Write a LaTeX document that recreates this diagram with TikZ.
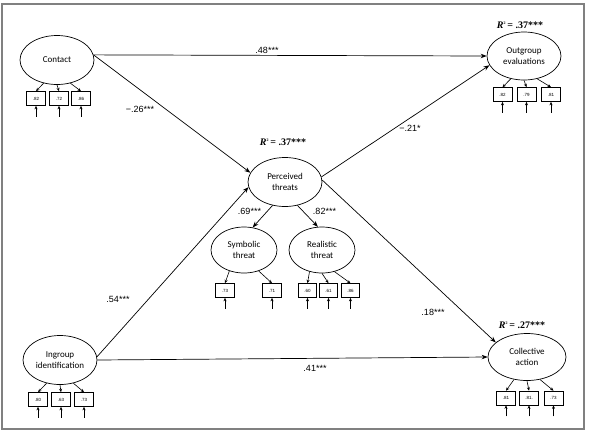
\documentclass[tikz,border=0pt]{standalone}
\usepackage{fontspec}
\setmainfont{Liberation Serif}
\newfontfamily\nodefont{Carlito}
\newfontfamily\labfont{Liberation Sans}
\usetikzlibrary{shapes.geometric,arrows.meta}
\tikzset{
  lat/.style={ellipse, draw, line width=0.7pt, minimum width=74pt, minimum height=49pt,
    inner sep=0pt, align=center, font=\nodefont\fontsize{9}{11}\selectfont},
  ind/.style={rectangle, draw, line width=0.6pt, minimum width=19pt, minimum height=14pt,
    inner sep=0pt, font=\labfont\fontsize{4.5}{5}\selectfont},
  reg/.style={draw, line width=0.7pt, -{Stealth[length=6pt,width=4.5pt]}},
  small/.style={draw, line width=0.6pt, -{Stealth[length=3.5pt,width=3pt]}},
  coef/.style={font=\labfont\fontsize{9}{11}\selectfont, inner sep=0pt},
  rsq/.style={font=\bfseries\fontsize{10}{12}\selectfont, inner sep=0pt},
}
\newcommand{\rsqtext}[1]{\textit{R}\raisebox{3.5pt}{\fontsize{4}{4}\selectfont 2}\,= .#1***}
\begin{document}
\begin{tikzpicture}[x=1pt,y=-1pt]
\useasboundingbox (0,0) rectangle (589,432);
\draw[gray, line width=1.2pt] (2,4) rectangle (584,429);

% latent variables
\node[lat] (contact) at (57,60) {Contact};
\node[lat, minimum height=48pt] (outgroup) at (524,56) {Outgroup\\evaluations};
\node[lat] (perceived) at (285,182) {Perceived\\threats};
\node[lat, minimum width=66pt, minimum height=46pt] (symbolic) at (244,250) {Symbolic\\threat};
\node[lat, minimum width=66pt, minimum height=46pt] (realistic) at (322,250) {Realistic\\threat};
\node[lat] (ingroup) at (60,360) {Ingroup\\identification};
\node[lat, minimum width=78pt, minimum height=47pt] (collective) at (527,357) {Collective\\action};

% indicators
\node[ind] (c1) at (36,98.5) {.82};
\node[ind] (c2) at (59,98.5) {.72};
\node[ind] (c3) at (81,98.5) {.86};
\node[ind] (o1) at (502.5,94.5) {.82};
\node[ind] (o2) at (526.5,94.5) {.79};
\node[ind] (o3) at (551,94.5) {.81};
\node[ind] (s1) at (225,290.5) {.73};
\node[ind] (s2) at (272,290.5) {.71};
\node[ind, minimum width=18pt] (r1) at (307.5,290.5) {.60};
\node[ind, minimum width=18pt] (r2) at (328.5,290.5) {.61};
\node[ind, minimum width=18pt] (r3) at (350.5,290.5) {.86};
\node[ind] (i1) at (38,399.5) {.80};
\node[ind] (i2) at (61,399.5) {.63};
\node[ind] (i3) at (84,399.5) {.73};
\node[ind] (a1) at (506,398) {.81};
\node[ind] (a2) at (529,398) {.81.};
\node[ind] (a3) at (553.5,398) {.73};

% loadings arrows
\draw[small] (contact.240) -- (c1.north);
\draw[small] (contact.270) -- (c2.north);
\draw[small] (contact.300) -- (c3.north);
\draw[small] (outgroup.240) -- (o1.north);
\draw[small] (outgroup.270) -- (o2.north);
\draw[small] (outgroup.300) -- (o3.north);
\draw[small] (symbolic.235) -- (s1.north);
\draw[small] (symbolic.305) -- (s2.north);
\draw[small] (realistic.240) -- (r1.north);
\draw[small] (realistic.270) -- (r2.north);
\draw[small] (realistic.300) -- (r3.north);
\draw[small] (ingroup.240) -- (i1.north);
\draw[small] (ingroup.270) -- (i2.north);
\draw[small] (ingroup.300) -- (i3.north);
\draw[small] (collective.240) -- (a1.north);
\draw[small] (collective.270) -- (a2.north);
\draw[small] (collective.300) -- (a3.north);

% error arrows
\foreach \b in {c1,c2,c3,o1,o2,o3,s1,s2,r1,r2,r3,i1,i2,i3,a1,a2,a3}{
  \coordinate (\b e) at ([yshift=-11pt]\b.south);
  \draw[small] (\b e) -- (\b.south);
}

% structural paths
\draw[reg] (contact.8) -- (outgroup.west);
\draw[reg] (contact.8) -- (perceived.165);
\draw[reg] (ingroup.5) -- (perceived.188);
\draw[reg] (ingroup.east) -- (collective.west);
\draw[reg] (perceived.8) -- (outgroup.195);
\draw[reg] (perceived.3) -- (collective.155);
\draw[reg] (perceived.242) -- (symbolic.69);
\draw[reg] (perceived.298) -- (realistic.100);

% coefficients
\node[coef] (l48) at (267,50) {.48***};
\node[coef] (l26) at (140,109) {−.26***};
\node[coef] (l21) at (410,128) {−.21*};
\node[coef] (l69) at (249.5,211) {.69***};
\node[coef] (l82) at (324.5,211) {.82***};
\node[coef] (l18) at (433,312) {.18***};
\node[coef] (l54) at (118,299) {.54***};
\node[coef] (l41) at (315,368) {.41***};

% R squared
\node[rsq] (rp) at (283,142) {\rsqtext{37}};
\node[rsq] (ro) at (520,25) {\rsqtext{37}};
\node[rsq] (rc) at (522,325) {\rsqtext{27}};
\end{tikzpicture}
\end{document}
